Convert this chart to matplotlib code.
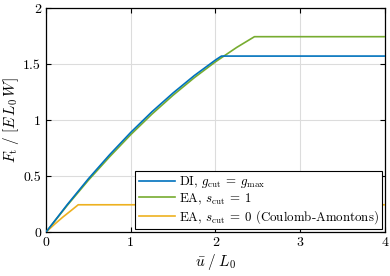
import matplotlib
matplotlib.use('Agg')
import matplotlib.pyplot as plt

plt.rcParams['mathtext.fontset'] = 'cm'
plt.rcParams['font.family'] = 'serif'
plt.rcParams['font.serif'] = ['cmr10']
plt.rcParams['axes.formatter.use_mathtext'] = True
plt.rcParams['axes.unicode_minus'] = False

# DI, g_cut = g_max
u_di = [0, 0.25, 0.5, 0.75, 1.0, 1.25, 1.5, 1.75, 2.0, 2.07, 4.0]
f_di = [0, 0.245, 0.476, 0.69, 0.89, 1.074, 1.242, 1.397, 1.536, 1.571, 1.571]
# EA, s_cut = 1
u_ea1 = [0, 0.25, 0.5, 0.75, 1.0, 1.25, 1.5, 1.75, 2.0, 2.25, 2.46, 4.0]
f_ea1 = [0, 0.238, 0.463, 0.672, 0.87, 1.053, 1.222, 1.378, 1.52, 1.648, 1.744, 1.744]
# EA, s_cut = 0 (Coulomb-Amontons)
u_ea0 = [0, 0.1, 0.2, 0.3, 0.38, 4.0]
f_ea0 = [0, 0.07, 0.135, 0.195, 0.244, 0.244]

fig = plt.figure(figsize=(3.9, 2.76), dpi=100)
ax = fig.add_axes([0.118, 0.159, 0.869, 0.812])

l1, = ax.plot(u_di, f_di, color='#0072BD', lw=1.2, zorder=4,
              label=r'DI, $g_{\rm cut}\:=\:g_{\max}$')
l2, = ax.plot(u_ea1, f_ea1, color='#77AC30', lw=1.2, zorder=3,
              label=r'EA, $s_{\rm cut}\:=\:1$')
l3, = ax.plot(u_ea0, f_ea0, color='#EDB120', lw=1.2, zorder=3,
              label=r'EA, $s_{\rm cut}\:=\:0$ (Coulomb-Amontons)')

ax.set_xlim(0, 4)
ax.set_ylim(0, 2)
ax.set_xticks([0, 1, 2, 3, 4])
ax.set_yticks([0, 0.5, 1, 1.5, 2])
ax.set_xticklabels(['0', '1', '2', '3', '4'])
ax.set_yticklabels(['0', '0.5', '1', '1.5', '2'])
ax.grid(True, color='#dcdcdc', lw=0.8)
ax.set_axisbelow(True)
ax.tick_params(direction='in', top=True, right=True, labelsize=10, length=3.5, width=0.8)
for s in ax.spines.values():
    s.set_linewidth(0.9)

ax.set_xlabel(r'$\bar{u}\;/\;L_0$', fontsize=11, labelpad=2)
ax.set_ylabel(r'$F_{\rm t}\;/\;[E\,L_0\,W]$', fontsize=11, labelpad=2)

leg = ax.legend(handles=[l1, l2, l3], loc='lower right', fontsize=9.3, fancybox=False,
                framealpha=1, edgecolor='black', borderpad=0.25, labelspacing=0.1,
                handlelength=2.8, handletextpad=0.3, borderaxespad=0.25)
leg.get_frame().set_linewidth(0.8)

fig.savefig('out.png', dpi=100)
